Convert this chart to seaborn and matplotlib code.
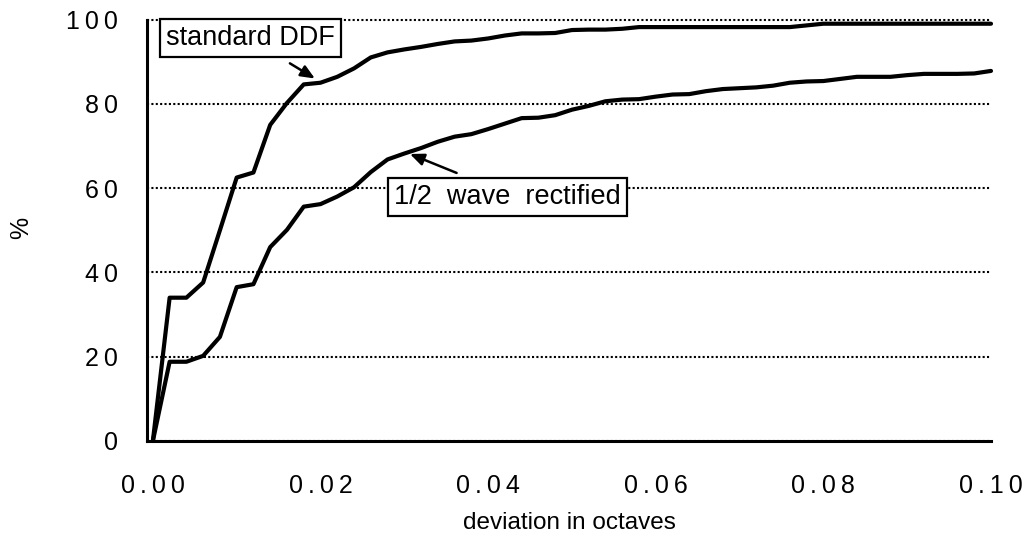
import matplotlib
matplotlib.use("Agg")
import matplotlib.pyplot as plt
import seaborn as sns
import numpy as np
import pandas as pd

# ---- data ----
deviation = [i * 0.002 for i in range(51)]
standard_ddf = [0, 34, 34, 37.6, 50, 62.5, 63.7, 75, 80.2, 84.6,
                85, 86.4, 88.4, 91, 92.2, 92.9, 93.5, 94.2, 94.8, 95,
                95.5, 96.2, 96.7, 96.7, 96.8, 97.5, 97.6, 97.6, 97.8, 98.2,
                98.2, 98.2, 98.2, 98.2, 98.2, 98.2, 98.2, 98.2, 98.2, 98.6,
                99, 99, 99, 99, 99, 99, 99, 99, 99, 99, 99]
half_wave = [0, 18.8, 18.8, 20.2, 24.7, 36.5, 37.2, 46, 50.1, 55.6,
             56.2, 58, 60.2, 63.8, 66.8, 68.2, 69.5, 71, 72.2, 72.8,
             74, 75.3, 76.6, 76.7, 77.3, 78.6, 79.5, 80.6, 81, 81.1,
             81.7, 82.2, 82.3, 83, 83.5, 83.7, 83.9, 84.3, 85, 85.3,
             85.4, 85.9, 86.4, 86.4, 86.4, 86.8, 87.1, 87.1, 87.1, 87.2, 87.8]
series_names = ["standard DDF", "1/2 wave rectified"]
x_ticks = [0.00, 0.02, 0.04, 0.06, 0.08, 0.10]
x_tick_labels = ["0.00", "0.02", "0.04", "0.06", "0.08", "0.10"]
y_ticks = [0, 20, 40, 60, 80, 100]
y_tick_labels = ["0", "20", "40", "60", "80", "100"]

df = pd.DataFrame({
    "deviation": deviation * 2,
    "pct": standard_ddf + half_wave,
    "series": [series_names[0]] * len(deviation) + [series_names[1]] * len(deviation),
})

sns.set_theme(style="white")
plt.rcParams["font.family"] = ["Liberation Sans", "DejaVu Sans"]
plt.rcParams["text.color"] = "black"

fig = plt.figure(figsize=(10.25, 5.4), dpi=100)
ax = fig.add_axes([147 / 1025, 99 / 540, (991 - 147) / 1025, (441 - 19.5) / 540])

sns.lineplot(data=df, x="deviation", y="pct", hue="series",
             palette=["black", "black"], linewidth=3.0, legend=False,
             ax=ax, clip_on=False, zorder=3)

ax.set_xlim(-0.0007, 0.100)
ax.set_ylim(0, 100)

thin = "\u2009"
ax.set_xticks(x_ticks)
ax.set_xticklabels([thin.join(s) for s in x_tick_labels])
ax.set_yticks(y_ticks)
ax.set_yticklabels([thin.join(s) for s in y_tick_labels])

ax.tick_params(axis="both", which="major", direction="out", length=14,
               width=1.8, color="black", labelsize=18, labelcolor="black", pad=7)
ax.tick_params(axis="x", pad=10)

for side in ["top", "right"]:
    ax.spines[side].set_visible(False)
for side in ["left", "bottom"]:
    ax.spines[side].set_visible(True)
    ax.spines[side].set_color("black")
    ax.spines[side].set_linewidth(2.2)

ax.yaxis.grid(True, linestyle=(0, (1, 1.1)), linewidth=1.5, color="black")
ax.xaxis.grid(False)
ax.set_axisbelow(True)
for gl in ax.yaxis.get_gridlines():
    gl.set_clip_on(False)

ax.set_xlabel("deviation in octaves", fontsize=17.5, color="black", labelpad=10)
ax.set_ylabel("%", fontsize=18, color="black")
ax.yaxis.set_label_coords((33 - 147) / 844, 0.505)

box = dict(boxstyle="square,pad=0.22", facecolor="white", edgecolor="black", linewidth=1.6)
ax.text(0.01163, 95.7, "standard DDF", fontsize=19.5, ha="center", va="center",
        color="black", bbox=box, zorder=5, clip_on=False)
ax.text(0.0423, 57.9, "1/2  wave  rectified", fontsize=19.5, ha="center", va="center",
        color="black", bbox=box, zorder=5, clip_on=False)

arrow = dict(arrowstyle="-|>,head_length=0.7,head_width=0.3", color="black",
             linewidth=1.8, shrinkA=0, shrinkB=0)
ax.annotate("", xy=(0.01933, 86.0), xytext=(0.01635, 89.6), arrowprops=arrow, zorder=6)
ax.annotate("", xy=(0.03067, 68.1), xytext=(0.03624, 63.6), arrowprops=arrow, zorder=6)

fig.savefig("out.png", dpi=100)
